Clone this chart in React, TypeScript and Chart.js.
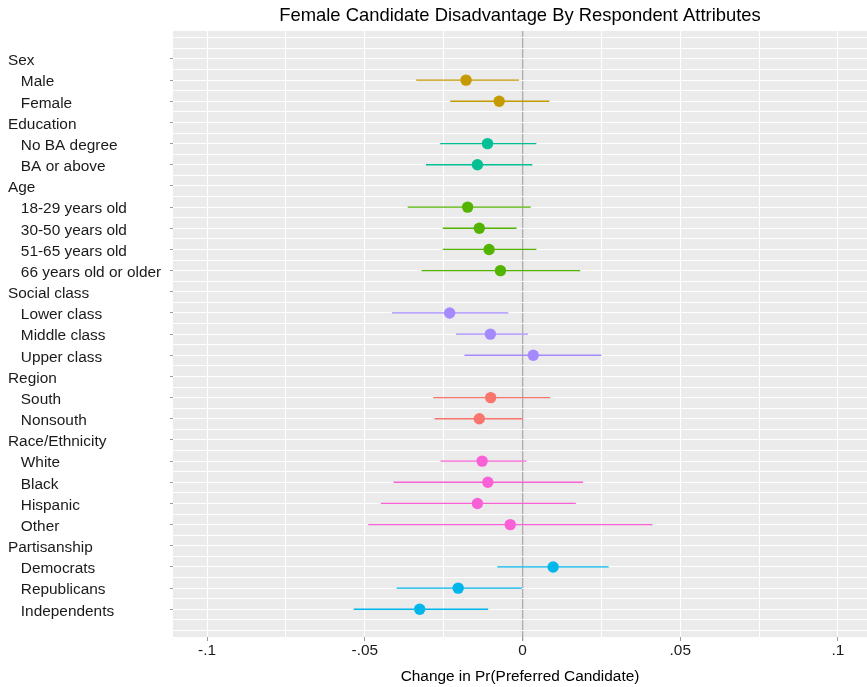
import React, { useEffect, useRef } from 'react';
import { Chart, registerables } from 'chart.js';

Chart.register(...registerables);

const rowLabels = [
  'Sex', '   Male', '   Female',
  'Education', '   No BA degree', '   BA or above',
  'Age', '   18-29 years old', '   30-50 years old', '   51-65 years old', '   66 years old or older',
  'Social class', '   Lower class', '   Middle class', '   Upper class',
  'Region', '   South', '   Nonsouth',
  'Race/Ethnicity', '   White', '   Black', '   Hispanic', '   Other',
  'Partisanship', '   Democrats', '   Republicans', '   Independents',
];

const groupNames = ['Sex', 'Education', 'Age', 'Social class', 'Region', 'Race/Ethnicity', 'Partisanship'];
const groupColors = ['#C49A00', '#00C094', '#53B400', '#A58AFF', '#F8766D', '#FB61D7', '#00B6EB'];

const itemRow = [1, 2, 4, 5, 7, 8, 9, 10, 12, 13, 14, 16, 17, 19, 20, 21, 22, 24, 25, 26];
const itemGroup = [0, 0, 1, 1, 2, 2, 2, 2, 3, 3, 3, 4, 4, 5, 5, 5, 5, 6, 6, 6];
const estimates = [-0.0179, -0.0074, -0.0111, -0.0143, -0.0174, -0.0137, -0.0106, -0.0070, -0.0231, -0.0102, 0.0034, -0.0101, -0.0137, -0.0128, -0.0110, -0.0143, -0.0039, 0.0097, -0.0204, -0.0326];
const lowerCI = [-0.0337, -0.0229, -0.0261, -0.0306, -0.0364, -0.0253, -0.0253, -0.0320, -0.0414, -0.0211, -0.0184, -0.0283, -0.0279, -0.0260, -0.0409, -0.0449, -0.0489, -0.0080, -0.0399, -0.0535];
const upperCI = [-0.0011, 0.0085, 0.0044, 0.0031, 0.0026, -0.0019, 0.0044, 0.0183, -0.0045, 0.0017, 0.0250, 0.0088, 0.0002, 0.0012, 0.0192, 0.0169, 0.0412, 0.0273, -0.0002, -0.0109];

const xTickValues = [-0.1, -0.075, -0.05, -0.025, 0, 0.025, 0.05, 0.075, 0.1];
const xTickLabels = ['-.1', '', '-.05', '', '0', '', '.05', '', '.1'];

const yGridValues: number[] = [];
for (let v = -1; v <= 27; v += 0.5) yGridValues.push(v);

const X_MIN = -0.1108;
const X_MAX = 0.1092;

const FONT = "'Liberation Sans', Arial, Helvetica, sans-serif";

const panelBg = {
  id: 'panelBg',
  beforeDraw(chart: any) {
    const { ctx, chartArea } = chart;
    ctx.save();
    ctx.fillStyle = '#EBEBEB';
    ctx.fillRect(chartArea.left, chartArea.top, chartArea.right - chartArea.left, chartArea.bottom - chartArea.top);
    ctx.restore();
  },
};

export default function App() {
  const ref = useRef<HTMLCanvasElement | null>(null);

  useEffect(() => {
    if (!ref.current) return;
    const datasets: any[] = [];
    groupNames.forEach((g, gi) => {
      const pts: any[] = [];
      itemGroup.forEach((ig, k) => {
        if (ig === gi) pts.push({ x: estimates[k], y: itemRow[k] });
      });
      datasets.push({
        label: g,
        data: pts,
        showLine: false,
        pointRadius: 5.7,
        pointBackgroundColor: groupColors[gi],
        pointBorderWidth: 0,
        pointBorderColor: groupColors[gi],
        order: 0,
      });
    });
    itemRow.forEach((row, k) => {
      datasets.push({
        label: rowLabels[row].trim() + ' CI',
        data: [
          { x: lowerCI[k], y: row },
          { x: upperCI[k], y: row },
        ],
        showLine: true,
        borderColor: groupColors[itemGroup[k]],
        borderWidth: 1.3,
        pointRadius: 0,
        order: 1,
      });
    });

    const chart = new Chart(ref.current, {
      type: 'scatter',
      data: { datasets },
      plugins: [panelBg],
      options: {
        animation: false,
        responsive: false,
        devicePixelRatio: 1,
        layout: { autoPadding: false, padding: { left: 8, right: 0, top: 0, bottom: 0 } },
        plugins: {
          legend: { display: false },
          tooltip: { enabled: false },
          title: { display: false },
        },
        scales: {
          xTop: {
            type: 'linear',
            position: 'top',
            min: X_MIN,
            max: X_MAX,
            afterFit: (scale: any) => {
              scale.height = 31;
              scale.paddingLeft = 0;
              scale.paddingRight = 0;
            },
            border: { display: false },
            grid: { display: false, drawTicks: false },
            ticks: { display: false },
            title: {
              display: true,
              text: 'Female Candidate Disadvantage By Respondent Attributes',
              color: '#000',
              font: { family: FONT, size: 18.4 },
              padding: { top: 5, bottom: 0 },
            },
          },
          x: {
            type: 'linear',
            position: 'bottom',
            min: X_MIN,
            max: X_MAX,
            afterBuildTicks: (scale: any) => {
              scale.ticks = xTickValues.map((v) => ({ value: v }));
            },
            afterFit: (scale: any) => {
              scale.height = 50;
              scale.paddingLeft = 0;
              scale.paddingRight = 0;
            },
            border: { display: false },
            grid: {
              color: (c: any) => (c.tick && c.tick.value === 0 ? '#ABABAB' : '#FFFFFF'),
              lineWidth: (c: any) => (c.tick && c.tick.value === 0 ? 1.3 : 1),
              tickColor: (c: any) => (c.index % 2 === 0 ? '#999999' : 'rgba(0,0,0,0)'),
              tickLength: 4,
              drawTicks: true,
            },
            ticks: {
              autoSkip: false,
              maxRotation: 0,
              padding: 1,
              color: '#1A1A1A',
              font: { family: FONT, size: 15.4 },
              callback: (_v: any, i: number) => xTickLabels[i],
            },
            title: {
              display: true,
              text: 'Change in Pr(Preferred Candidate)',
              color: '#000',
              font: { family: FONT, size: 15.4 },
              padding: { top: 0, bottom: 1 },
            },
          },
          y: {
            type: 'linear',
            reverse: true,
            z: -1,
            min: -1.32,
            max: 27.31,
            afterBuildTicks: (scale: any) => {
              scale.ticks = yGridValues.map((v) => ({ value: v }));
            },
            afterFit: (scale: any) => {
              scale.width = 165;
              scale.paddingTop = 0;
              scale.paddingBottom = 0;
            },
            border: { display: false },
            grid: {
              color: '#FFFFFF',
              lineWidth: 1,
              tickColor: (c: any) => {
                const v = c.tick ? c.tick.value : -1;
                return Number.isInteger(v) && v >= 0 && v <= 26 ? '#999999' : 'rgba(0,0,0,0)';
              },
              tickLength: 3,
              drawTicks: true,
            },
            ticks: {
              autoSkip: false,
              crossAlign: 'far',
              padding: 0,
              labelOffset: 2,
              color: '#1A1A1A',
              font: { family: FONT, size: 15.4 },
              callback: (v: any) => {
                const n = Number(v);
                return Number.isInteger(n) && n >= 0 && n <= 26 ? rowLabels[n] : '';
              },
            },
          },
        },
      } as any,
    });
    return () => chart.destroy();
  }, []);

  return (
    <div style={{ position: 'fixed', left: 0, top: 0, width: 867, height: 687, background: '#fff' }}>
      <canvas ref={ref} width={867} height={687} style={{ display: 'block', width: 867, height: 687 }} />
    </div>
  );
}
